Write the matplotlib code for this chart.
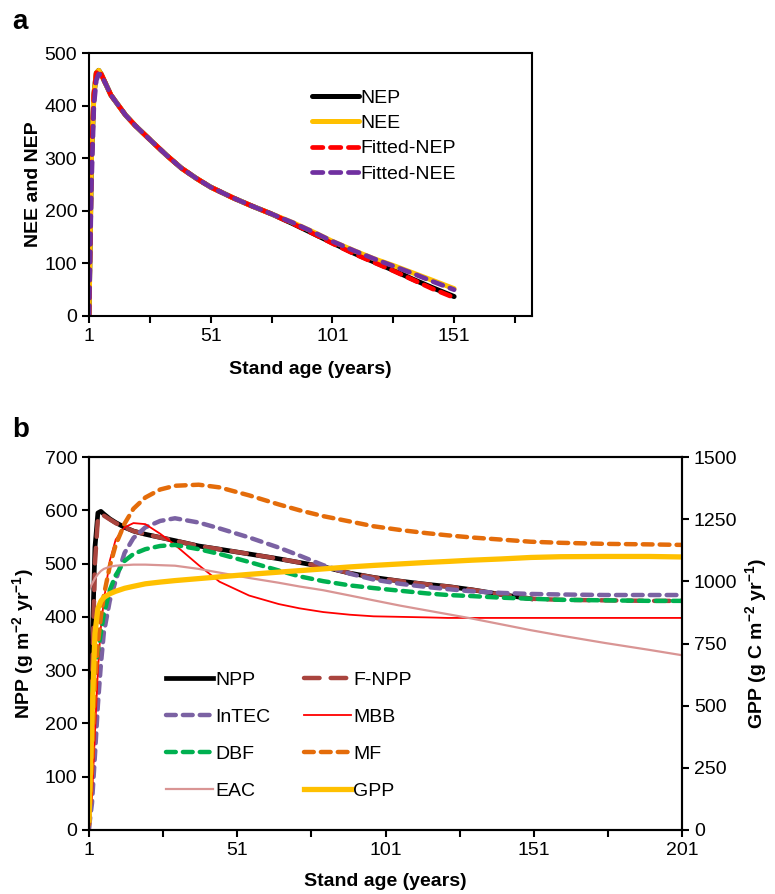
import numpy as np
import matplotlib
matplotlib.use("Agg")
import matplotlib.pyplot as plt

plt.rcParams['font.family'] = ['Liberation Sans', 'DejaVu Sans']
plt.rcParams['mathtext.fontset'] = 'custom'
plt.rcParams['mathtext.rm'] = 'Liberation Sans'
plt.rcParams['mathtext.bf'] = 'Liberation Sans:bold'
plt.rcParams['mathtext.default'] = 'bf'

# ---- panel a data ----
yrs_a = [1, 2, 3, 4, 5, 6, 8, 10, 13, 16, 20, 27, 33, 39, 45, 51, 60, 68, 76,
         85, 93, 101, 110, 118, 126, 134, 142, 151]
nep = [0, 300, 420, 462, 467, 460, 440, 420, 401, 382, 362, 331, 305, 281, 262,
       245, 225, 209, 194, 175, 157, 139, 119, 103, 87, 70, 54, 37]
nee = [0, 300, 420, 462, 467, 460, 440, 420, 401, 382, 362, 331, 305, 281, 262,
       245, 225, 209, 194, 177, 160, 142, 124, 109, 96, 82, 68, 52]
fit_nep = [0, 300, 420, 462, 467, 460, 440, 420, 401, 382, 362, 331, 305, 281, 262,
           245, 225, 209, 194, 175, 157, 138, 118, 102, 86, 69, 52, 35]
fit_nee = [0, 250, 400, 448, 460, 458, 440, 420, 401, 382, 362, 331, 305, 281, 262,
           245, 225, 209, 194, 177, 160, 142, 124, 109, 95, 81, 66, 50]

# ---- panel b data ----
yrs_b = [1, 2, 3, 4, 5, 6, 8, 10, 13, 16, 20, 25, 30, 38, 45, 55, 65, 72, 80, 89,
         97, 106, 115, 122, 130, 140, 150, 160, 175, 190, 201]
nan = np.nan
npp = [40, 330, 530, 595, 598, 593, 584, 577, 568, 561, 555, 549, 543, 533, 527, 518,
       509, 502, 494, 482, 474, 467, 461, 457, 451, 442, 434, nan, nan, nan, nan]
f_npp = [0, 280, 500, 585, 592, 590, 583, 576, 568, 561, 555, 549, 543, 533, 527, 518,
         509, 502, 494, 482, 474, 467, 461, 457, 451, 442, 434, 432, 431, 430, 430]
intec = [5, 50, 140, 235, 310, 370, 430, 468, 520, 548, 568, 580, 585, 577, 566, 549,
         530, 515, 497, 481, 470, 462, 456, 452, 448, 445, 443, 442, 441, 441, 441]
mbb = [10, 60, 180, 300, 380, 430, 505, 545, 568, 576, 574, 556, 535, 497, 466, 440,
       424, 416, 409, 404, 401, 400, 399, 398, 398, 398, 398, 398, 398, 398, 398]
dbf = [230, 265, 300, 335, 370, 405, 450, 478, 505, 518, 527, 533, 535, 527, 518, 503,
       487, 476, 467, 459, 454, 449, 444, 441, 439, 436, 434, 432, 431, 430, 430]
mf = [10, 130, 275, 350, 400, 440, 495, 535, 575, 603, 624, 639, 646, 648, 643, 628,
      611, 600, 589, 579, 570, 563, 557, 553, 549, 545, 541, 539, 537, 536, 535]
eac = [450, 462, 472, 480, 486, 490, 494, 496, 497, 498, 498, 497, 496, 490, 483, 473,
       464, 457, 450, 440, 431, 421, 412, 405, 397, 386, 375, 365, 351, 338, 328]
gpp = [40, 450, 790, 890, 920, 935, 950, 960, 972, 980, 990, 997, 1003, 1011, 1018, 1028,
       1037, 1043, 1050, 1058, 1064, 1070, 1076, 1080, 1085, 1090, 1096, 1099, 1100, 1100, 1098]

W, H = 775, 894
FS = 14
fig = plt.figure(figsize=(W / 100, H / 100), dpi=100)


def rect(l, t, r, b):
    return [l / W, 1 - b / H, (r - l) / W, (b - t) / H]


# ---------------- panel a ----------------
ax = fig.add_axes(rect(89, 53, 532, 316))
ax.plot(yrs_a, nep, color='black', lw=3.6, solid_capstyle='round', label='NEP')
ax.plot(yrs_a, nee, color='#FFC000', lw=3.6, solid_capstyle='round', label='NEE')
ax.plot(yrs_a, fit_nep, color='#FF0000', lw=3.4, dashes=(2.2, 1.6), dash_capstyle='round',
        label='Fitted-NEP')
ax.plot(yrs_a, fit_nee, color='#7030A0', lw=3.4, dashes=(2.2, 1.6), dash_capstyle='round',
        label='Fitted-NEE')
ax.set_xlim(1, 183)
ax.set_ylim(0, 500)
xt = np.arange(1, 183, 25)
ax.set_xticks(xt)
ax.set_xticklabels([str(v) if i % 2 == 0 else '' for i, v in enumerate(xt)])
ax.set_yticks(np.arange(0, 501, 100))
ax.tick_params(direction='out', length=5, width=1.5, labelsize=FS)
for s in ax.spines.values():
    s.set_linewidth(1.5)
ax.set_xlabel('Stand age (years)', fontsize=FS, fontweight='bold', labelpad=12)
ax.set_ylabel('NEE and NEP', fontsize=FS, fontweight='bold', labelpad=2)
ax.legend(loc='upper left', bbox_to_anchor=(312 / W, 1 - 89 / H),
          bbox_transform=fig.transFigure, frameon=False, fontsize=FS,
          handlelength=2.4, handletextpad=0.1, labelspacing=0.4, borderpad=0,
          borderaxespad=0)
fig.text(12 / W, 1 - 22 / H, 'a', fontsize=20, fontweight='bold', va='center')

# ---------------- panel b ----------------
bx = fig.add_axes(rect(89, 457, 682, 830))
bx2 = bx.twinx()
l_npp, = bx.plot(yrs_b, npp, color='black', lw=3.4, label='NPP')
l_fnpp, = bx.plot(yrs_b, f_npp, color='#A9443E', lw=3.2, dashes=(3.5, 2.5),
                  dash_capstyle='round', label='F-NPP')
l_intec, = bx.plot(yrs_b, intec, color='#7B62A3', lw=3.2, dashes=(2.2, 1.6),
                   dash_capstyle='round', label='InTEC')
l_mbb, = bx.plot(yrs_b, mbb, color='#FF0000', lw=1.3, label='MBB')
l_dbf, = bx.plot(yrs_b, dbf, color='#00B050', lw=3.2, dashes=(2.2, 1.6),
                 dash_capstyle='round', label='DBF')
l_mf, = bx.plot(yrs_b, mf, color='#E46C0A', lw=3.2, dashes=(2.2, 1.6),
                dash_capstyle='round', label='MF')
l_eac, = bx.plot(yrs_b, eac, color='#D99594', lw=1.6, label='EAC')
l_gpp, = bx2.plot(yrs_b, gpp, color='#FFC000', lw=3.8, label='GPP')

bx.set_xlim(1, 201)
bx.set_ylim(0, 700)
bx2.set_ylim(0, 1500)
xt = np.arange(1, 202, 25)
bx.set_xticks(xt)
bx.set_xticklabels([str(v) if i % 2 == 0 else '' for i, v in enumerate(xt)])
bx.set_yticks(np.arange(0, 701, 100))
bx2.set_yticks(np.arange(0, 1501, 250))
for a in (bx, bx2):
    a.tick_params(direction='out', length=5, width=1.5, labelsize=FS)
    for s in a.spines.values():
        s.set_linewidth(1.5)
bx.set_xlabel('Stand age (years)', fontsize=FS, fontweight='bold', labelpad=10)
bx.set_ylabel(r'NPP (g m$^{-2}$ yr$^{-1}$)', fontsize=FS, fontweight='bold', labelpad=6)
bx2.set_ylabel(r'GPP (g C m$^{-2}$ yr$^{-1}$)', fontsize=FS, fontweight='bold',
               rotation=90, labelpad=4)
handles = [l_npp, l_intec, l_dbf, l_eac, l_fnpp, l_mbb, l_mf, l_gpp]
bx.legend(handles=handles, labels=[h.get_label() for h in handles], ncol=2,
          loc='upper left', bbox_to_anchor=(166 / W, 1 - 671 / H),
          bbox_transform=fig.transFigure, frameon=False, fontsize=FS,
          handlelength=2.4, handletextpad=0.12, labelspacing=1.0, columnspacing=1.75,
          borderpad=0, borderaxespad=0)
fig.text(12 / W, 1 - 430 / H, 'b', fontsize=20, fontweight='bold', va='center')

fig.savefig('out.png', dpi=100)
